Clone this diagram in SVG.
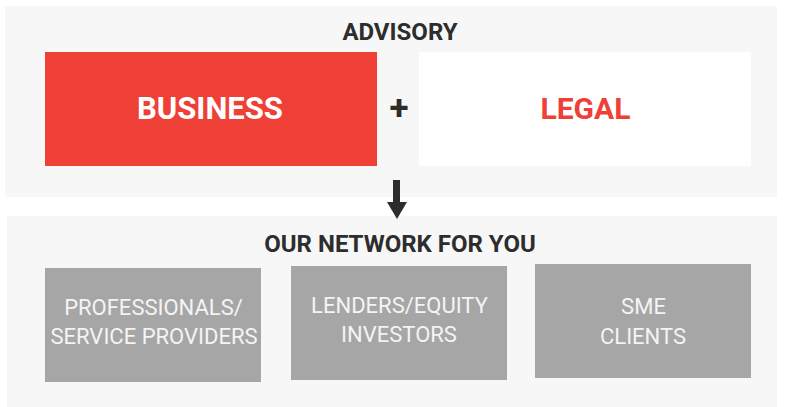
<svg xmlns="http://www.w3.org/2000/svg" width="787" height="407" viewBox="0 0 787 407">
<style>
.panel{fill:#f7f7f7}
.h{font-family:Roboto,"Liberation Sans",sans-serif;font-weight:bold;font-size:24px;fill:#2d2d2d;text-anchor:middle}
.big{font-family:Roboto,"Liberation Sans",sans-serif;font-weight:bold;font-size:31px;text-anchor:middle}
.gbox{fill:#a6a6a6}
.gt{font-family:Roboto,"Liberation Sans",sans-serif;font-size:22px;fill:#f4f4f4;text-anchor:middle}
</style>
<rect class="panel" x="5" y="6" width="772" height="191"/>
<rect class="panel" x="7" y="216" width="770" height="191"/>
<text class="h" x="400" y="40">ADVISORY</text>
<g id="business">
<rect x="45" y="52" width="332" height="114" fill="#ee4036"/>
<text class="big" x="210" y="119" fill="#ffffff">BUSINESS</text>
</g>
<text class="h" x="399" y="120" style="font-size:35px">+</text>
<g id="legal">
<rect x="419" y="52" width="332" height="114" fill="#ffffff"/>
<text class="big" x="585.5" y="119" fill="#ee4036" style="font-size:30px">LEGAL</text>
</g>
<g id="connectors">
<rect x="393" y="180" width="7" height="23" fill="#2d2d2d"/>
<polygon points="387,202 407,202 397,219" fill="#2d2d2d"/>
</g>
<text class="h" x="400" y="252">OUR NETWORK FOR YOU</text>
<g id="professionals">
<rect class="gbox" x="45" y="268" width="216" height="114"/>
<text class="gt" x="153.5" y="315">PROFESSIONALS/</text>
<text class="gt" x="154" y="344">SERVICE PROVIDERS</text>
</g>
<g id="lenders">
<rect class="gbox" x="291" y="266" width="216" height="114"/>
<text class="gt" x="399.5" y="313">LENDERS/EQUITY</text>
<text class="gt" x="399" y="342">INVESTORS</text>
</g>
<g id="sme">
<rect class="gbox" x="535" y="264" width="216" height="114"/>
<text class="gt" x="643.5" y="314">SME</text>
<text class="gt" x="643" y="344">CLIENTS</text>
</g>
</svg>
